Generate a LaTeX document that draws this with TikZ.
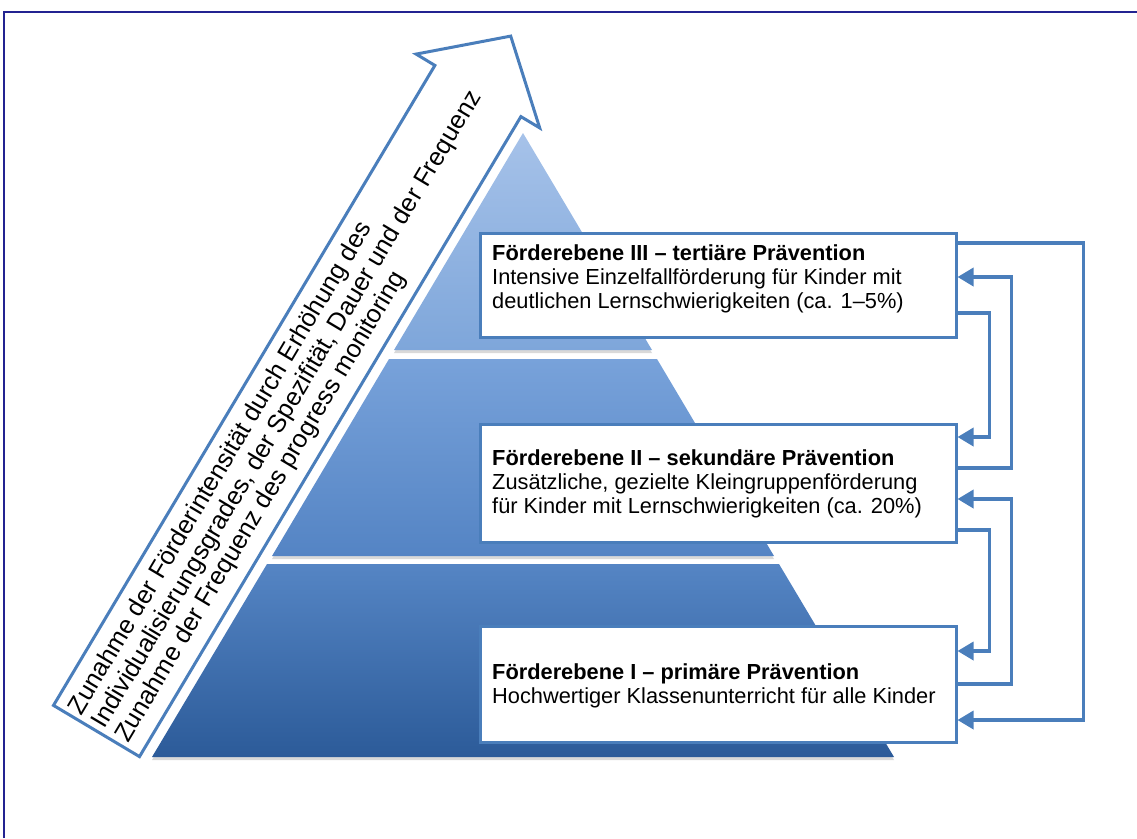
\documentclass[tikz,border=0pt]{standalone}
\usepackage{fontspec}
\setmainfont{Liberation Sans}
\usetikzlibrary{calc,arrows.meta,shadows}
\definecolor{lineblue}{RGB}{74,126,187}
\definecolor{frameblue}{RGB}{35,35,145}
\definecolor{pAtop}{HTML}{A6C2E9}
\definecolor{pAbot}{HTML}{7EA6DA}
\definecolor{pBtop}{HTML}{78A2DA}
\definecolor{pBbot}{HTML}{5484C4}
\definecolor{pCtop}{HTML}{5585C4}
\definecolor{pCbot}{HTML}{2C5B99}
\begin{document}
\begin{tikzpicture}[x=1pt,y=-1pt,
  box/.style={draw=lineblue, line width=3pt, fill=white, inner sep=0pt, minimum width=476pt},
  boxtext/.style={anchor=west, align=left, inner sep=0pt, font=\fontsize{21.8pt}{23.8pt}\selectfont},
  conn/.style={draw=lineblue, line width=3.5pt, -{Triangle[length=16pt,width=18pt]}},
  tier/.style={drop shadow={shadow xshift=0pt,shadow yshift=-3pt,opacity=0.3}},
  bigarrow/.style={draw=lineblue, line width=3pt, line join=miter, fill=white}
]
\useasboundingbox (0,0) rectangle (1137,838);
% frame
\draw[frameblue, line width=1.8pt] (4,838) -- (4,12) -- (1137,12);
% pyramid
\path[tier, top color=pAtop, bottom color=pAbot] (523,133) -- (652,350) -- (394,350) -- cycle;
\path[tier, top color=pBtop, bottom color=pBbot] (389,359) -- (657,359) -- (774,556) -- (272,556) -- cycle;
\path[tier, top color=pCtop, bottom color=pCbot] (267,564) -- (779,564) -- (894,757) -- (152,757) -- cycle;
% big arrow
\draw[white, line width=10pt, fill=white, line join=miter]
  (53.5,705.4) -- (434.9,65.4) -- (416.1,54.1) -- (510.7,36.1) -- (539.7,127.9) -- (520.9,116.6) -- (139.5,756.6) -- cycle;
\draw[bigarrow]
  (53.5,705.4) -- (434.9,65.4) -- (416.1,54.1) -- (510.7,36.1) -- (539.7,127.9) -- (520.9,116.6) -- (139.5,756.6) -- cycle;
\node[rotate=59.23, anchor=west, align=left, inner sep=0pt, font=\fontsize{25.3pt}{27pt}\selectfont] (atext) at (99.1,726.7)
  {Zunahme der Förderintensität durch Erhöhung des\\Individualisierungsgrades, der Spezifität, Dauer und der Frequenz\\Zunahme der Frequenz des progress monitoring};
% boxes
\node[box, minimum height=104pt] (b3) at (718,285) {};
\node[box, minimum height=118pt] (b2) at (718,483) {};
\node[box, minimum height=116pt] (b1) at (718,684) {};
\node[boxtext] (t3) at (492,279) {\textbf{Förderebene III – tertiäre Prävention}\\Intensive Einzelfallförderung für Kinder mit\\deutlichen Lernschwierigkeiten (ca. 1–5\%)};
\node[boxtext] (t2) at (492,484) {\textbf{Förderebene II – sekundäre Prävention}\\Zusätzliche, gezielte Kleingruppenförderung\\für Kinder mit Lernschwierigkeiten (ca. 20\%)};
\node[boxtext] (t1) at (492,686) {\textbf{Förderebene I – primäre Prävention}\\Hochwertiger Klassenunterricht für alle Kinder};
% connectors
\draw[conn] ($(b3.east)+(0,-42)$) -- ++(126,0) |- ($(b1.east)+(0,36)$);
\draw[conn] ($(b2.east)+(0,-15)$) -- ++(54,0) |- ($(b3.east)+(0,-8)$);
\draw[conn] ($(b3.east)+(0,28)$) -- ++(32,0) |- ($(b2.east)+(0,-46)$);
\draw[conn] (b1.east) -- ++(54,0) |- ($(b2.east)+(0,16)$);
\draw[conn] ($(b2.east)+(0,47)$) -- ++(32,0) |- ($(b1.east)+(0,-33)$);
\end{tikzpicture}
\end{document}
